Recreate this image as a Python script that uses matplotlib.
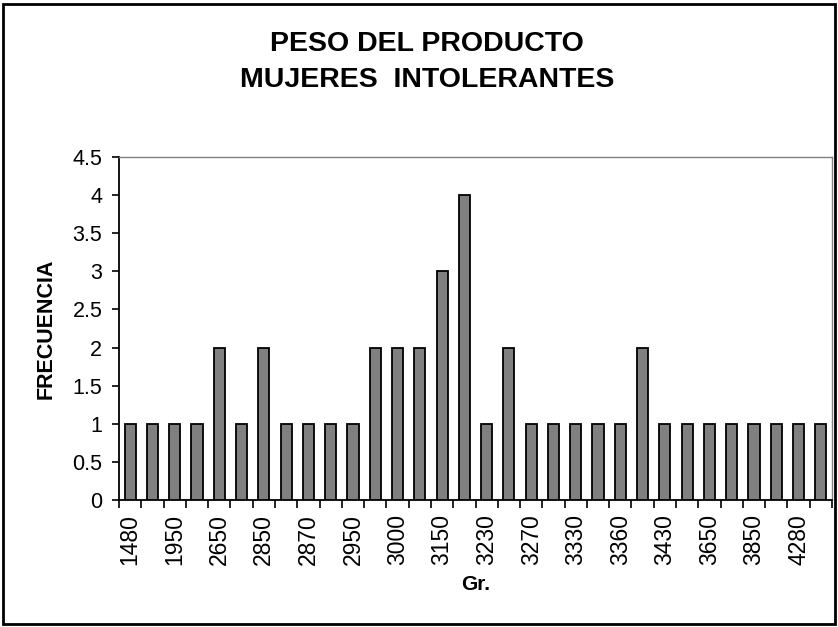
import numpy as np
import matplotlib.pyplot as plt
from matplotlib.patches import Rectangle

plt.rcParams['font.family'] = ['Liberation Sans', 'DejaVu Sans']

# weights (gr.) - only every other label is printed on the original axis
pesos = ['1480', '1800', '1950', '2500', '2650', '2800', '2850', '2860',
         '2870', '2900', '2950', '2980', '3000', '3100', '3150', '3200',
         '3230', '3250', '3270', '3300', '3330', '3350', '3360', '3400',
         '3430', '3500', '3650', '3700', '3850', '4000', '4280', '4300']
frecuencia = [1, 1, 1, 1, 2, 1, 2, 1, 1, 1, 1, 2, 2, 2, 3, 4,
              1, 2, 1, 1, 1, 1, 1, 2, 1, 1, 1, 1, 1, 1, 1, 1]

fig = plt.figure(figsize=(8.38, 6.27), dpi=100)
ax = fig.add_axes([119/838, 1 - 500/627, (832-119)/838, (500-157)/627])

x = np.arange(len(pesos))
ax.bar(x, frecuencia, width=0.5, color='#808080', edgecolor='black', linewidth=1.3, zorder=3)

ax.set_xlim(-0.5, len(pesos) - 0.5)
ax.set_ylim(0, 4.5)
ax.set_yticks(np.arange(0, 4.51, 0.5))
ax.set_yticklabels(['0', '0.5', '1', '1.5', '2', '2.5', '3', '3.5', '4', '4.5'])
ax.set_xticks(x[::2])
ax.set_xticklabels(pesos[::2], rotation=90)
ax.set_xticks(np.arange(-0.5, len(pesos)), minor=True)
ax.tick_params(axis='x', which='major', length=0, pad=10, labelsize=16.5)
ax.tick_params(axis='x', which='minor', length=6, width=1.2, direction='out')
ax.tick_params(axis='y', length=5, width=1.2, labelsize=15.5, pad=7)

for s in ['top', 'right']:
    ax.spines[s].set_color('#808080')
    ax.spines[s].set_linewidth(1)
for s in ['left', 'bottom']:
    ax.spines[s].set_color('black')
    ax.spines[s].set_linewidth(1.3)

ax.set_ylabel('FRECUENCIA', fontsize=15.5, fontweight='bold', labelpad=11)
ax.set_xlabel('Gr.', fontsize=15, fontweight='bold', labelpad=7)

fig.text(427/838, 1 - 62/627, 'PESO DEL PRODUCTO\nMUJERES  INTOLERANTES', ha='center', va='center',
         fontsize=20.5, fontweight='bold', linespacing=1.5)

fig.patches.append(Rectangle((3/838, 3/627), 832/838, 620/627, transform=fig.transFigure,
                             fill=False, edgecolor='black', linewidth=2))

fig.savefig('out.png', dpi=100)
